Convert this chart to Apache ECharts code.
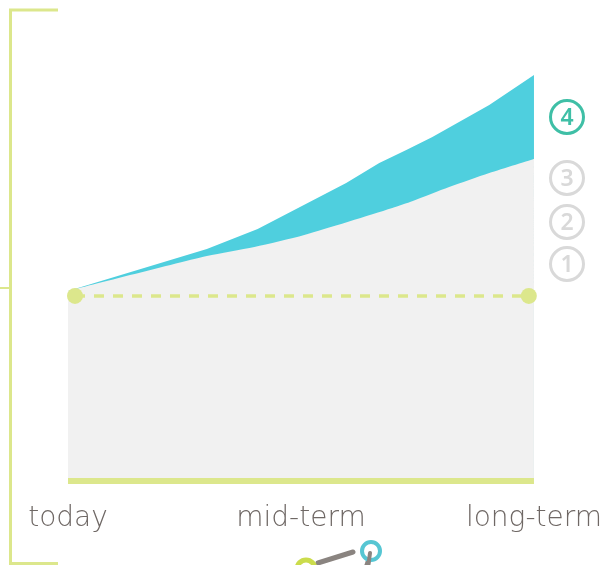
<!DOCTYPE html>
<html><head><meta charset="utf-8">
<script src="https://cdn.jsdelivr.net/npm/echarts@6/dist/echarts.min.js"></script>
<style>html,body{margin:0;padding:0;background:#fff}#c{width:605px;height:565px}</style>
</head><body><div id="c"></div>
<script>
// x positions: 0 = today, 50 = mid-term, 100 = long-term
var tickValues = [0, 50, 100];
var tickLabels = ['today', 'mid-term', 'long-term'];
// gray area (baseline scenario) top edge
var grayX = [0, 29.8, 40, 50.7, 69.6, 74, 81.8, 90.4, 100];
var grayY = [100, 118.4, 123.2, 129.5, 143.7, 147.4, 154.7, 162.1, 169.5];
// blue band top edge (scenario 4)
var blueX = [0, 29.8, 40.7, 59.7, 66.8, 72.6, 78.2, 90.4, 100];
var blueY = [100, 122.1, 132.6, 156.8, 167.4, 174.2, 181.1, 197.9, 213.7];
// dashed reference line (today level)
var refX = [1.5, 98.9];
var refY = [97.4, 97.4];
var levelLabels = ['4', '3', '2', '1'];

function pairs(xs, ys){ return xs.map(function(x,i){ return [x, ys[i]]; }); }

var green = '#dce78c';
var chart = echarts.init(document.getElementById('c'));
var circlesY = [117, 178, 222, 264];
var graphics = [
  {type:'line', shape:{x1:10.5,y1:10,x2:10.5,y2:565}, style:{stroke:green, lineWidth:3}},
  {type:'line', shape:{x1:9,y1:10,x2:58,y2:10}, style:{stroke:green, lineWidth:3}},
  {type:'line', shape:{x1:0,y1:288,x2:12,y2:288}, style:{stroke:green, lineWidth:2}},
  {type:'line', shape:{x1:9,y1:563.5,x2:58,y2:563.5}, style:{stroke:green, lineWidth:3}},
  // bottom icon (partially cut)
  {type:'line', shape:{x1:318,y1:563,x2:353,y2:552}, style:{stroke:'#8a8480', lineWidth:5, lineCap:'round'}},
  {type:'line', shape:{x1:370,y1:556,x2:366,y2:568}, style:{stroke:'#8a8480', lineWidth:5, lineCap:'round'}},
  {type:'circle', shape:{cx:306,cy:569,r:9}, style:{fill:'none', stroke:'#cbdc4c', lineWidth:5}},
  {type:'circle', shape:{cx:371,cy:551,r:9}, style:{fill:'#fff', stroke:'#56c6d3', lineWidth:4}},
  {type:'line', shape:{x1:370,y1:553,x2:368,y2:568}, style:{stroke:'#8a8480', lineWidth:4, lineCap:'round'}}
];
levelLabels.forEach(function(t,i){
  var col = i === 0 ? '#3fbfa6' : '#d9d9d9';
  graphics.push({type:'circle', shape:{cx:567,cy:circlesY[i],r:16.5}, style:{fill:'#fff', stroke:col, lineWidth:3}});
  graphics.push({type:'text', x:567, y:circlesY[i]+1, style:{text:t, fill:col, font:'600 23px "Noto Sans"', textAlign:'center', textVerticalAlign:'middle'}});
});

chart.setOption({
  animation:false,
  grid:{left:68, right:70, top:63, bottom:84},
  xAxis:{type:'value', min:0, max:100, interval:50, z:10,
    axisLine:{show:true, lineStyle:{color:green, width:6, cap:'butt'}},
    axisTick:{show:false}, splitLine:{show:false},
    axisLabel:{margin:24, color:'#6f6865', fontSize:28, fontFamily:'DejaVu Sans', fontWeight:200,
      formatter:function(v){ var k = tickValues.indexOf(v); return k>=0 ? tickLabels[k] : ''; }}},
  yAxis:{type:'value', min:0, max:220, show:false, splitLine:{show:false}},
  series:[
    {type:'line', data:pairs(blueX, blueY), symbol:'none', lineStyle:{width:0}, areaStyle:{color:'#4fcfde', opacity:1}, z:1},
    {type:'line', data:pairs(grayX, grayY), symbol:'none', smooth:0.25, lineStyle:{width:0}, areaStyle:{color:'#f1f1f1', opacity:1}, z:2},
    {type:'line', data:pairs(refX, refY), symbol:'circle', symbolSize:16, showAllSymbol:true,
      itemStyle:{color:green}, lineStyle:{color:green, width:3.5, type:[10,9]}, z:4}
  ],
  graphic:graphics
});
</script></body></html>
